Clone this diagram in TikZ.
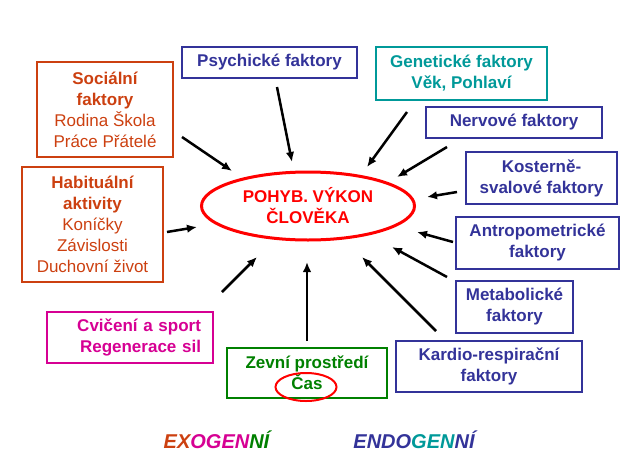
\documentclass[tikz,border=0pt]{standalone}
\usepackage{fontspec}
\setmainfont{Liberation Sans}
\usetikzlibrary{arrows.meta,shapes.geometric}
\definecolor{socred}{RGB}{204,64,16}
\definecolor{navy}{RGB}{51,51,153}
\definecolor{teal}{RGB}{0,153,153}
\definecolor{pink}{RGB}{214,0,147}
\definecolor{zgreen}{RGB}{0,128,0}
\definecolor{vred}{RGB}{255,0,0}

\begin{document}
\begin{tikzpicture}[x=1pt,y=-1pt,>={Latex[length=10pt,width=8.5pt]},
  box/.style={draw,line width=2.8pt,align=center,inner sep=0pt,
    font=\fontsize{17}{21}\selectfont\bfseries},
  navybox/.style={box,draw=navy,text=navy},
  arr/.style={->,line width=2.5pt}]
\useasboundingbox (0,0) rectangle (634,474);
\node[ellipse,draw=vred,line width=3pt,text=vred,align=center,
  minimum width=213pt,minimum height=68pt,inner sep=0pt,
  font=\fontsize{17}{21}\selectfont\bfseries] (main) at (308,206)
  {POHYB. VÝKON\\ČLOVĚKA};
%
\node[box,draw=socred,text=socred,minimum width=136pt,minimum height=95pt] (soc) at (105,109.5)
  {Sociální\\faktory\\{\mdseries Rodina Škola}\\{\mdseries Práce Přátelé}};
\node[box,draw=socred,text=socred,minimum width=141pt,minimum height=115pt] (hab) at (92.5,224.5)
  {Habituální\\aktivity\\{\mdseries Koníčky}\\{\mdseries Závislosti}\\{\mdseries Duchovní život}};
\node[box,draw=pink,text=pink,minimum width=166pt,minimum height=51pt,
  text width=142pt,align=right,inner xsep=12pt] (cvic) at (130,337.5)
  {Cvičení a sport\\Regenerace sil};
\node[box,draw=zgreen,text=zgreen,minimum width=160pt,minimum height=50pt] (zev) at (307,373)
  {Zevní prostředí\\Čas};
\node[ellipse,draw=vred,line width=2pt,minimum width=61pt,minimum height=28pt] (cas) at (306,387) {};
%
\node[navybox,minimum width=175pt,minimum height=31pt] (psy) at (269.5,62.5) {Psychické faktory};
\node[box,draw=teal,text=teal,minimum width=171pt,minimum height=53pt] (gen) at (461.5,73.5)
  {Genetické faktory\\Věk, Pohlaví};
\node[navybox,minimum width=176pt,minimum height=31pt] (nerv) at (514,122.5) {Nervové faktory};
\node[navybox,minimum width=151pt,minimum height=52pt] (kost) at (541.5,178) {Kosterně-\\svalové faktory};
\node[navybox,minimum width=163pt,minimum height=52pt] (antr) at (537.5,243) {Antropometrické\\faktory};
\node[navybox,minimum width=117pt,minimum height=52pt] (meta) at (514.5,307) {Metabolické\\faktory};
\node[navybox,minimum width=186pt,minimum height=51pt] (kard) at (489,366.5) {Kardio-respirační\\faktory};
%
\node[font=\fontsize{20}{24}\selectfont\bfseries\itshape] (exo) at (216.5,440)
  {\textcolor{socred}{EX}\textcolor{pink}{OGEN}\textcolor{zgreen}{NÍ}};
\node[font=\fontsize{20}{24}\selectfont\bfseries\itshape] (endo) at (414,440)
  {\textcolor{navy}{ENDO}\textcolor{teal}{GEN}\textcolor{navy}{NÍ}};
%
\coordinate (soc1) at (182,137); \coordinate (soc2) at (232,171);
\coordinate (psy1) at (277,87); \coordinate (psy2) at (292,162);
\coordinate (hab1) at (167,232); \coordinate (hab2) at (197,227);
\coordinate (gen1) at (407,112); \coordinate (gen2) at (367,167);
\coordinate (nerv1) at (447,147); \coordinate (nerv2) at (397,177);
\coordinate (kost1) at (457,192); \coordinate (kost2) at (427,197);
\coordinate (antr1) at (453,242); \coordinate (antr2) at (417,232);
\coordinate (meta1) at (447,277); \coordinate (meta2) at (392,247);
\coordinate (kard1) at (436,331); \coordinate (kard2) at (362,257);
\coordinate (zev1) at (307,341); \coordinate (zev2) at (307,262);
\coordinate (cvic1) at (222,292); \coordinate (cvic2) at (257,257);
\draw[arr] (soc1) -- (soc2); \draw[arr] (psy1) -- (psy2); \draw[arr] (hab1) -- (hab2);
\draw[arr] (gen1) -- (gen2); \draw[arr] (nerv1) -- (nerv2); \draw[arr] (kost1) -- (kost2);
\draw[arr] (antr1) -- (antr2); \draw[arr] (meta1) -- (meta2); \draw[arr] (kard1) -- (kard2);
\draw[arr] (zev1) -- (zev2); \draw[arr] (cvic1) -- (cvic2);
\end{tikzpicture}
\end{document}
